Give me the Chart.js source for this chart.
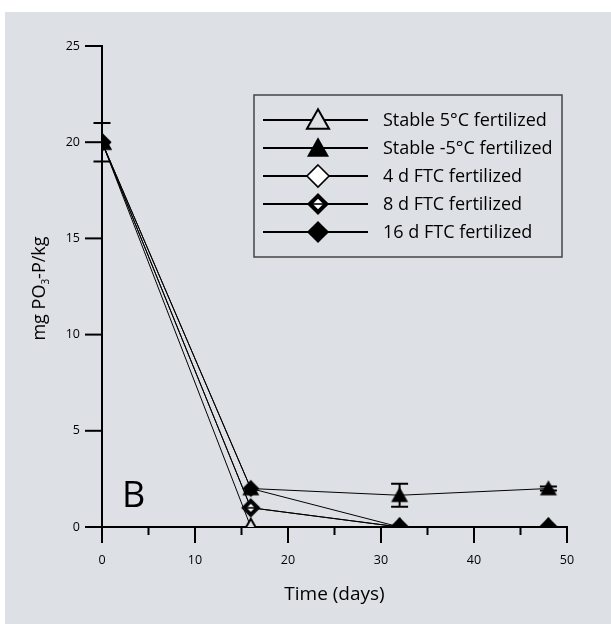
<!DOCTYPE html>
<html>
<head>
<meta charset="utf-8">
<script src="https://cdn.jsdelivr.net/npm/chart.js@4/dist/chart.umd.min.js"></script>
<style>
body{margin:0;background:#fff;}
#wrap{position:absolute;left:5px;top:12px;width:606px;height:612px;background:#dde0e4;}
</style>
</head>
<body>
<div id="wrap"><canvas id="c" width="606" height="612"></canvas></div>
<script>
// data
const days=[0,16,32,48];
const labels=['Stable 5°C fertilized','Stable -5°C fertilized','4 d FTC fertilized','8 d FTC fertilized','16 d FTC fertilized'];
const stable5=[20,0,0,0];
const stableM5=[20,2,1.65,2];
const ftc4=[20,1,0,0];
const ftc8=[20,1,0,0];
const ftc16=[20,2,0,0];
const errM5=[1,0,0.6,0.1];
const xTicks=[0,10,20,30,40,50];
const yTicks=[0,5,10,15,20,25];
const drawOrder=[4,0,3,2,1]; // lower = drawn on top
const FONT='"Open Sans", sans-serif';
const BG='#dde0e4';

function mk(kind,k){
    let s=Math.ceil(24*k),c=document.createElement('canvas'); c.width=s; c.height=s;
    let g=c.getContext('2d'), m=s/2;
    g.lineWidth=2; g.strokeStyle='#000'; g.fillStyle='#000';
    if(kind=='tri'||kind=='triF'){
        let h=15*k, w=8.5*k;
        g.beginPath(); g.moveTo(m,m-h*0.55); g.lineTo(m+w,m+h*0.45); g.lineTo(m-w,m+h*0.45); g.closePath();
        if(kind=='triF') g.fill(); else { g.fillStyle=BG; g.fill(); g.stroke(); }
    } else {
        let d=8.5*k;
        g.beginPath(); g.moveTo(m,m-d); g.lineTo(m+d,m); g.lineTo(m,m+d); g.lineTo(m-d,m); g.closePath();
        if(kind=='dia'){ g.fillStyle='#fff'; g.fill(); g.lineWidth=1.6; g.stroke(); }
        else if(kind=='diaF'){ g.fill(); }
        else {
            g.fill(); let e=4*k;
            g.fillStyle='#fff'; g.beginPath(); g.moveTo(m,m-e); g.lineTo(m+e,m); g.lineTo(m,m+e); g.lineTo(m-e,m); g.closePath(); g.fill();
            g.fillStyle='#000'; g.fillRect(m-e,m-0.8,2*e,1.6);
        }
    }
    return c;
}
const kinds=['tri','triF','dia','diaH','diaF'];
const styles=kinds.map(k=>mk(k,1));
const legStyles=kinds.map(k=>mk(k,1.3));
const series=[stable5,stableM5,ftc4,ftc8,ftc16];

const ds=series.map((v,i)=>({
    label:labels[i],
    data:days.map((d,j)=>({x:d,y:v[j]})),
    borderColor:'#000',borderWidth:1,
    pointStyle:styles[i],pointRadius:9,pointHoverRadius:9,
    showLine:true,fill:false,tension:0,
    order:drawOrder[i]
}));

const deco={
    id:'deco',
    afterDraw(ch){
        let g=ch.ctx, xs=ch.scales.x, ys=ch.scales.y, a=ch.chartArea;
        g.save();
        g.strokeStyle='#000'; g.lineWidth=2;
        // y ticks
        yTicks.forEach(t=>{ let y=ys.getPixelForValue(t); g.beginPath(); g.moveTo(a.left-17,y); g.lineTo(a.left,y); g.stroke(); });
        // x ticks, major and minor
        for(let t=0;t<=50;t+=5){
            let x=xs.getPixelForValue(t), l=(t%10==0)?16:8;
            g.beginPath(); g.moveTo(x,a.bottom); g.lineTo(x,a.bottom+l); g.stroke();
        }
        // error bars
        days.forEach((d,j)=>{
            if(!errM5[j]) return;
            let x=xs.getPixelForValue(d), y1=ys.getPixelForValue(stableM5[j]-errM5[j]), y2=ys.getPixelForValue(stableM5[j]+errM5[j]);
            g.beginPath(); g.moveTo(x,y1); g.lineTo(x,y2);
            g.moveTo(x-8.5,y1); g.lineTo(x+8.5,y1); g.moveTo(x-8.5,y2); g.lineTo(x+8.5,y2); g.stroke();
        });
        // legend
        g.strokeStyle='#444'; g.lineWidth=1.5; g.strokeRect(249,83,308,162);
        g.strokeStyle='#000';
        g.font='18px '+FONT; g.fillStyle='#000'; g.textBaseline='middle'; g.textAlign='left';
        labels.forEach((l,i)=>{
            let y=108+i*28;
            g.lineWidth=2; g.beginPath(); g.moveTo(258,y); g.lineTo(363,y); g.stroke();
            let im=legStyles[i];
            g.drawImage(im,313-im.width/2,y-im.height/2);
            g.fillText(l,378,y+1);
        });
        // panel letter
        g.font='36px '+FONT; g.textBaseline='alphabetic';
        g.fillText('B',117,495);
        // x title
        g.font='19px '+FONT; g.textAlign='center';
        g.fillText('Time (days)',(a.left+a.right)/2,588);
        // y title with subscript
        g.translate(35,(a.top+a.bottom)/2+2); g.rotate(-Math.PI/2);
        g.textAlign='left'; g.textBaseline='middle';
        let p1='mg PO', p3='-P/kg';
        g.font='18px '+FONT; let w1=g.measureText(p1).width, w3=g.measureText(p3).width;
        g.font='10px '+FONT; let w2=g.measureText('3').width;
        let x0=-(w1+w2+w3)/2;
        g.font='18px '+FONT; g.fillText(p1,x0,0);
        g.font='10px '+FONT; g.fillText('3',x0+w1,6);
        g.font='18px '+FONT; g.fillText(p3,x0+w1+w2,0);
        g.restore();
    }
};

new Chart(document.getElementById('c'),{
    type:'scatter',
    data:{datasets:ds},
    options:{
        responsive:false,animation:false,
        layout:{padding:{top:34,right:44,bottom:0,left:0}},
        plugins:{legend:{display:false},tooltip:{enabled:false}},
        scales:{
            x:{type:'linear',min:0,max:50,
                afterFit:s=>{s.height=97;},
                afterBuildTicks:s=>{s.ticks=xTicks.map(v=>({value:v}));},
                grid:{display:false,drawTicks:false},
                border:{display:true,color:'#000',width:2},
                ticks:{padding:26,color:'#000',font:{family:FONT,size:12.5}}},
            y:{type:'linear',min:0,max:25,
                afterFit:s=>{s.width=97;},
                afterBuildTicks:s=>{s.ticks=yTicks.map(v=>({value:v}));},
                grid:{display:false,drawTicks:false},
                border:{display:true,color:'#000',width:2},
                ticks:{padding:22,color:'#000',font:{family:FONT,size:12.5}}}
        }
    },
    plugins:[deco]
});
</script>
</body>
</html>
